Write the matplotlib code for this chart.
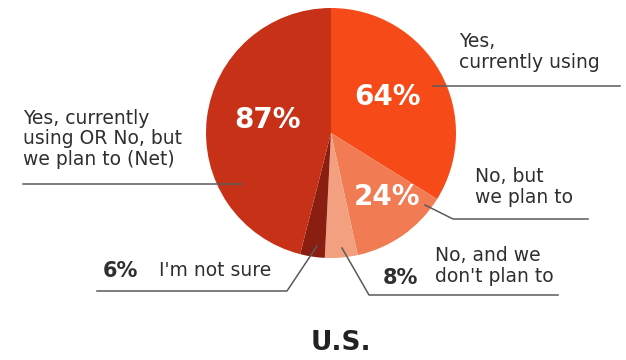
import matplotlib
matplotlib.use("Agg")
import matplotlib.pyplot as plt

# data
labels = ["Yes,\ncurrently using", "No, but\nwe plan to", "No, and we\ndon't plan to",
          "I'm not sure", "Yes, currently\nusing OR No, but\nwe plan to (Net)"]
values = [64, 24, 8, 6, 87]
colors = ["#F64B19", "#F17B52", "#F3A080", "#8A1E10", "#C63117"]
title = "U.S."

W, H = 626, 360
fig = plt.figure(figsize=(W / 100, H / 100), dpi=100)
ax = fig.add_axes([0, 0, 1, 1])


def Y(y):
    # pixel row -> data y
    return H - y


cx, cy, r = 331, 133, 125
ax.pie(values, colors=colors, startangle=90, counterclock=False,
       center=(cx, Y(cy)), radius=r, wedgeprops=dict(linewidth=0))
ax.set_xlim(0, W)
ax.set_ylim(0, H)
ax.set_aspect("equal")
ax.axis("off")

txt = "#2f2f2f"
line = "#5a5a5a"
fs = 13.5
ls = 1.12

# values inside the pie
for v, (x, y) in zip([values[0], values[1], values[4]], [(387, 97), (387, 197), (268, 120)]):
    ax.text(x, Y(y), f"{v}%", color="white", fontsize=20, fontweight="bold",
            ha="center", va="center")

# Yes, currently using
ax.text(459, Y(52), labels[0], color=txt, fontsize=fs, ha="left", va="center", linespacing=ls)
ax.plot([433, 620], [Y(86), Y(86)], color=line, lw=1.1)

# No, but we plan to
ax.text(475, Y(187), labels[1], color=txt, fontsize=fs, ha="left", va="center", linespacing=ls)
ax.plot([425, 453, 588], [Y(205), Y(219), Y(219)], color=line, lw=1.1)

# No, and we don't plan to
ax.text(435, Y(266), labels[2], color=txt, fontsize=fs, ha="left", va="center", linespacing=ls)
ax.text(400, Y(278), f"{values[2]}%", color=txt, fontsize=15, fontweight="bold",
        ha="center", va="center")
ax.plot([342, 369, 558], [Y(248), Y(295), Y(295)], color=line, lw=1.1)

# I'm not sure
ax.text(159, Y(271), labels[3], color=txt, fontsize=fs, ha="left", va="center")
ax.text(120, Y(271), f"{values[3]}%", color=txt, fontsize=15, fontweight="bold",
        ha="center", va="center")
ax.plot([317, 287, 97], [Y(246), Y(291), Y(291)], color=line, lw=1.1)

# Net
ax.text(23, Y(139), labels[4], color=txt, fontsize=fs, ha="left", va="center", linespacing=ls)
ax.plot([23, 242], [Y(184), Y(184)], color=line, lw=1.1)

ax.text(341, Y(343), title, color="#222222", fontsize=19, fontweight="bold",
        ha="center", va="center")

fig.savefig("out.png", dpi=100)
